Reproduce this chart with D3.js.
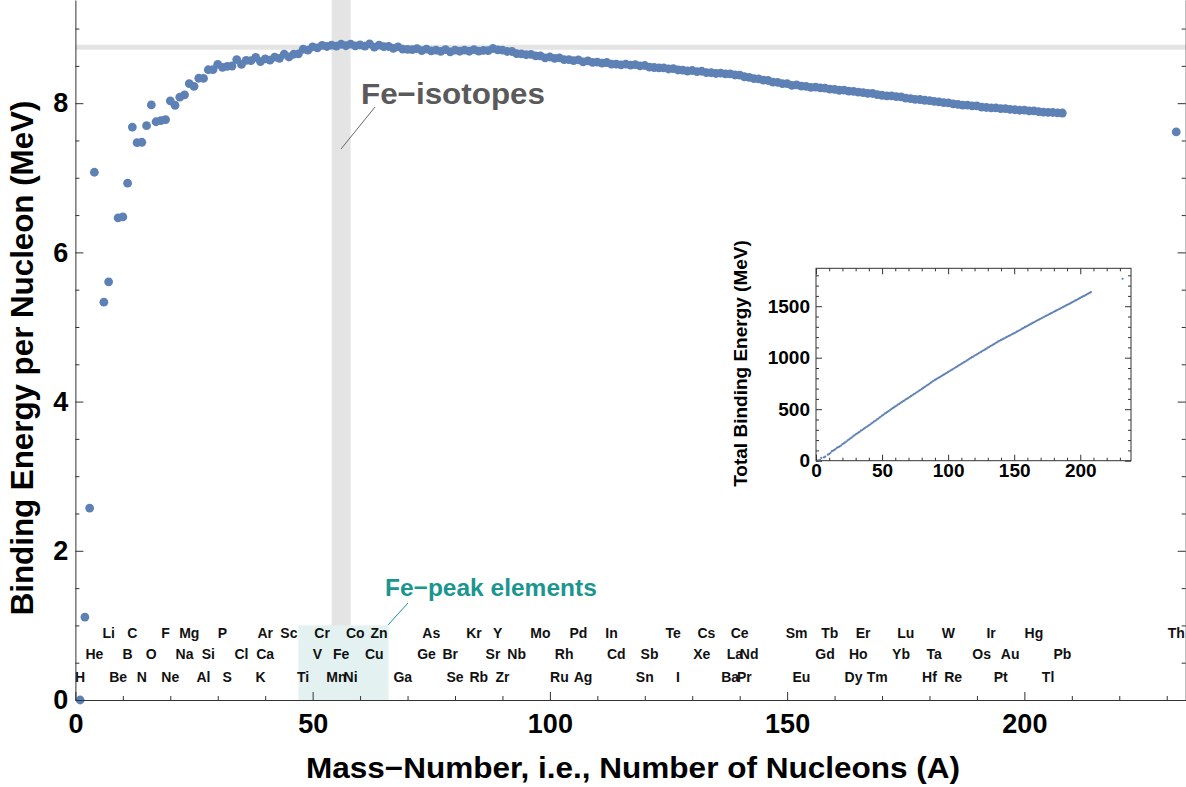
<!DOCTYPE html>
<html>
<head>
<meta charset="utf-8">
<script src="https://cdn.jsdelivr.net/npm/d3@7"></script>
<style>
  body { margin: 0; background: #fff; }
  svg { display: block; }
  text { font-family: "Liberation Sans", Arial, Helvetica, sans-serif; font-weight: bold; }
</style>
</head>
<body>
<svg id="chart" width="1186" height="787"></svg>
<script>
// Mass number A of the lowest-mass (most stable) isobar, and its binding energy per nucleon (MeV)
const massNumbers = [
  1, 2, 3, 4, 6, 7, 9, 10, 11, 12, 13, 14, 15, 16, 17, 18, 19, 20,
  21, 22, 23, 24, 25, 26, 27, 28, 29, 30, 31, 32, 33, 34, 35, 36, 37, 38, 39, 40,
  41, 42, 43, 44, 45, 46, 47, 48, 49, 50, 51, 52, 53, 54, 55, 56, 57, 58, 59, 60,
  61, 62, 63, 64, 65, 66, 67, 68, 69, 70, 71, 72, 73, 74, 75, 76, 77, 78, 79, 80,
  81, 82, 83, 84, 85, 86, 87, 88, 89, 90, 91, 92, 93, 94, 95, 96, 97, 98, 99, 100,
  101, 102, 103, 104, 105, 106, 107, 108, 109, 110, 111, 112, 113, 114, 115, 116, 117, 118, 119, 120,
  121, 122, 123, 124, 125, 126, 127, 128, 129, 130, 131, 132, 133, 134, 135, 136, 137, 138, 139, 140,
  141, 142, 143, 144, 145, 146, 147, 148, 149, 150, 151, 152, 153, 154, 155, 156, 157, 158, 159, 160,
  161, 162, 163, 164, 165, 166, 167, 168, 169, 170, 171, 172, 173, 174, 175, 176, 177, 178, 179, 180,
  181, 182, 183, 184, 185, 186, 187, 188, 189, 190, 191, 192, 193, 194, 195, 196, 197, 198, 199, 200,
  201, 202, 203, 204, 205, 206, 207, 208, 232
];
const bindingPerNucleon = [
  0.000, 1.112, 2.573, 7.074, 5.332, 5.606, 6.463, 6.475, 6.928, 7.680, 7.470, 7.476, 7.699, 7.976, 7.751, 7.767, 7.779, 8.032,
  7.972, 8.080, 8.112, 8.261, 8.224, 8.334, 8.332, 8.448, 8.449, 8.521, 8.481, 8.493, 8.498, 8.584, 8.520, 8.575, 8.570, 8.614, 8.557, 8.595,
  8.576, 8.617, 8.601, 8.658, 8.619, 8.656, 8.661, 8.723, 8.711, 8.756, 8.742, 8.776, 8.760, 8.778, 8.765, 8.790, 8.770, 8.792, 8.768, 8.781,
  8.765, 8.795, 8.752, 8.777, 8.757, 8.760, 8.734, 8.756, 8.725, 8.722, 8.718, 8.732, 8.705, 8.725, 8.701, 8.711, 8.695, 8.718, 8.688, 8.711,
  8.696, 8.711, 8.696, 8.717, 8.697, 8.708, 8.705, 8.733, 8.714, 8.710, 8.693, 8.693, 8.664, 8.662, 8.649, 8.654, 8.635, 8.635, 8.608, 8.619,
  8.601, 8.607, 8.584, 8.585, 8.571, 8.580, 8.554, 8.567, 8.548, 8.551, 8.537, 8.545, 8.523, 8.523, 8.514, 8.523, 8.510, 8.517, 8.499, 8.505,
  8.482, 8.478, 8.472, 8.473, 8.458, 8.463, 8.445, 8.443, 8.431, 8.438, 8.424, 8.428, 8.410, 8.408, 8.398, 8.403, 8.392, 8.394, 8.378, 8.376,
  8.354, 8.346, 8.330, 8.327, 8.309, 8.304, 8.281, 8.280, 8.263, 8.262, 8.239, 8.244, 8.229, 8.225, 8.213, 8.215, 8.204, 8.202, 8.189, 8.184,
  8.173, 8.174, 8.162, 8.159, 8.147, 8.142, 8.132, 8.130, 8.115, 8.106, 8.098, 8.097, 8.087, 8.084, 8.069, 8.061, 8.052, 8.049, 8.039, 8.035,
  8.023, 8.018, 8.008, 8.005, 7.991, 7.983, 7.974, 7.973, 7.963, 7.963, 7.948, 7.942, 7.938, 7.936, 7.927, 7.927, 7.916, 7.912, 7.905, 7.906,
  7.897, 7.897, 7.886, 7.880, 7.878, 7.875, 7.870, 7.868, 7.615
];

// Element symbols placed along the A axis, in order of atomic number (Tc, Pm, Bi omitted)
const elementSymbols = [
  "H", "He", "Li", "Be", "B", "C", "N", "O", "F", "Ne", "Na", "Mg", "Al", "Si", "P", "S", "Cl", "Ar", "K", "Ca",
  "Sc", "Ti", "V", "Cr", "Mn", "Fe", "Co", "Ni", "Cu", "Zn", "Ga", "Ge", "As", "Se", "Br", "Kr", "Rb", "Sr", "Y", "Zr",
  "Nb", "Mo", "Ru", "Rh", "Pd", "Ag", "Cd", "In", "Sn", "Sb", "Te", "I", "Xe", "Cs", "Ba", "La", "Ce", "Pr", "Nd",
  "Sm", "Eu", "Gd", "Tb", "Dy", "Ho", "Er", "Tm", "Yb", "Lu", "Hf", "Ta", "W", "Re", "Os", "Ir", "Pt", "Au", "Hg",
  "Tl", "Pb", "Th"
];
const elementMass = [
  1, 4, 7, 9, 11, 12, 14, 16, 19, 20, 23, 24, 27, 28, 31, 32, 35, 40, 39, 40,
  45, 48, 51, 52, 55, 56, 59, 58, 63, 64, 69, 74, 75, 80, 79, 84, 85, 88, 89, 90,
  93, 98, 102, 103, 106, 107, 114, 113, 120, 121, 126, 127, 132, 133, 138, 139, 140, 141, 142,
  152, 153, 158, 159, 164, 165, 166, 169, 174, 175, 180, 181, 184, 185, 191, 193, 195, 197, 202,
  205, 208, 232
];

const mainXTicks = [0, 50, 100, 150, 200];
const mainYTicks = [0, 2, 4, 6, 8];
const insetXTicks = [0, 50, 100, 150, 200];
const insetYTicks = [0, 500, 1000, 1500];

const feIsotopeRange = [54, 58];   // A range of the iron isotopes
const fePeakRange = [47, 66];      // A range of the iron-peak elements
const fePeakHeight = 1;            // height of the iron-peak box (MeV)
const peakLevel = 8.75;            // reference line at the top of the curve (MeV)

const blue = "#5e81b5";
const frameColor = "#333";

const svg = d3.select("#chart");

// ---------- main panel ----------
const x = d3.scaleLinear().domain([0, 234]).range([75.4, 1185.7]);
const y = d3.scaleLinear().domain([0, 9.383]).range([700, 0]);

// iron isotope band
svg.append("rect")
  .attr("x", x(feIsotopeRange[0])).attr("y", 0)
  .attr("width", x(feIsotopeRange[1]) - x(feIsotopeRange[0]))
  .attr("height", y(0))
  .attr("fill", "#e4e4e4");

// reference line at the peak
svg.append("line")
  .attr("x1", x(0)).attr("x2", x(234))
  .attr("y1", y(peakLevel)).attr("y2", y(peakLevel))
  .attr("stroke", "#e4e4e4").attr("stroke-width", 5);

// iron-peak box
svg.append("rect")
  .attr("x", x(fePeakRange[0])).attr("y", y(fePeakHeight))
  .attr("width", x(fePeakRange[1]) - x(fePeakRange[0]))
  .attr("height", y(0) - y(fePeakHeight))
  .attr("fill", "#e3f2f0");

// element symbols in three staggered rows
const rowY = [676.7, 654.3, 632.7];
svg.append("g").selectAll("text")
  .data(elementSymbols)
  .join("text")
  .attr("x", (d, i) => x(elementMass[i]))
  .attr("y", (d, i) => rowY[i % 3])
  .attr("dy", "0.36em")
  .attr("text-anchor", "middle")
  .attr("font-size", 14)
  .attr("fill", "#111")
  .text(d => d);

// binding energy per nucleon
svg.append("g").selectAll("circle")
  .data(massNumbers)
  .join("circle")
  .attr("cx", d => x(d))
  .attr("cy", (d, i) => y(bindingPerNucleon[i]))
  .attr("r", 4.4)
  .attr("fill", blue);

// annotations
svg.append("line")
  .attr("x1", 341).attr("y1", 149).attr("x2", 375).attr("y2", 107)
  .attr("stroke", "#666").attr("stroke-width", 1);
svg.append("text")
  .attr("x", 361).attr("y", 103.5)
  .attr("font-size", 30)
  .attr("fill", "#5a5a5a")
  .attr("textLength", 184).attr("lengthAdjust", "spacingAndGlyphs")
  .text("Fe\u2212isotopes");

svg.append("line")
  .attr("x1", 388).attr("y1", 625).attr("x2", 408).attr("y2", 603)
  .attr("stroke", "#1a9590").attr("stroke-width", 1);
svg.append("text")
  .attr("x", 385).attr("y", 596)
  .attr("font-size", 24.5)
  .attr("fill", "#1a9590")
  .text("Fe\u2212peak elements");

// axes with inward ticks
function styleAxis(g, size) {
  g.attr("font-family", null);
  if (size) g.attr("font-size", size);
  g.selectAll(".domain").attr("stroke", frameColor);
  g.selectAll(".tick line").attr("stroke", frameColor);
  g.selectAll(".tick text").attr("fill", "#000");
}

const xMinor = d3.range(0, 235, 10).filter(v => v % 50 !== 0);
const yMinor = d3.range(0, 9.3, 0.5).filter(v => v % 2 !== 0);

svg.append("g").attr("transform", `translate(0,${y(0)})`)
  .call(d3.axisBottom(x).tickValues(xMinor).tickSizeInner(-4).tickSizeOuter(0).tickFormat(""))
  .call(g => g.select(".domain").remove())
  .call(styleAxis);
svg.append("g").attr("transform", `translate(0,${y(0)})`)
  .call(d3.axisBottom(x).tickValues(mainXTicks).tickSizeInner(-8).tickSizeOuter(0).tickPadding(13.5))
  .call(styleAxis, 27);

svg.append("g").attr("transform", `translate(${x(0)},0)`)
  .call(d3.axisLeft(y).tickValues(yMinor).tickSizeInner(-4).tickSizeOuter(0).tickFormat(""))
  .call(g => g.select(".domain").remove())
  .call(styleAxis);
svg.append("g").attr("transform", `translate(${x(0)},0)`)
  .call(d3.axisLeft(y).tickValues(mainYTicks).tickSizeInner(-8).tickSizeOuter(0).tickPadding(7))
  .call(styleAxis, 27);

svg.append("g").attr("transform", `translate(${x(234)},0)`)
  .call(d3.axisRight(y).tickValues(yMinor).tickSizeInner(-4).tickSizeOuter(0).tickFormat(""))
  .call(g => g.select(".domain").remove())
  .call(styleAxis);
svg.append("g").attr("transform", `translate(${x(234)},0)`)
  .call(d3.axisRight(y).tickValues(mainYTicks).tickSizeInner(-8).tickSizeOuter(0).tickFormat(""))
  .call(styleAxis);

// axis titles
svg.append("text")
  .attr("x", 633).attr("y", 778)
  .attr("text-anchor", "middle")
  .attr("font-size", 29)
  .attr("textLength", 654).attr("lengthAdjust", "spacingAndGlyphs")
  .text("Mass\u2212Number, i.e., Number of Nucleons (A)");
svg.append("text")
  .attr("transform", "translate(33,358) rotate(-90)")
  .attr("text-anchor", "middle")
  .attr("font-size", 31.3)
  .text("Binding Energy per Nucleon (MeV)");

// ---------- inset: total binding energy ----------
const xi = d3.scaleLinear().domain([0, 238.4]).range([816, 1131]);
const yi = d3.scaleLinear().domain([0, 1868]).range([460.7, 268.3]);

const inset = svg.append("g");
inset.append("rect")
  .attr("x", xi(0)).attr("y", yi(1868))
  .attr("width", xi(238.4) - xi(0)).attr("height", yi(0) - yi(1868))
  .attr("fill", "#fff").attr("stroke", frameColor).attr("stroke-width", 1);

inset.append("g").selectAll("circle")
  .data(massNumbers)
  .join("circle")
  .attr("cx", d => xi(d))
  .attr("cy", (d, i) => yi(d * bindingPerNucleon[i]))
  .attr("r", 1.1)
  .attr("fill", blue);

const xiMinor = d3.range(0, 239, 10).filter(v => v % 50 !== 0);
const yiMinor = d3.range(0, 1868, 100).filter(v => v % 500 !== 0);

function insetAxes(axisFn, scale, pos, major, minor, labels, pad) {
  inset.append("g").attr("transform", pos)
    .call(axisFn(scale).tickValues(minor).tickSizeInner(-3).tickSizeOuter(0).tickFormat(""))
    .call(g => g.select(".domain").remove())
    .call(styleAxis);
  const a = axisFn(scale).tickValues(major).tickSizeInner(-6).tickSizeOuter(0).tickPadding(pad)
    .tickFormat(labels ? d3.format("d") : "");
  inset.append("g").attr("transform", pos)
    .call(a)
    .call(g => g.select(".domain").remove())
    .call(styleAxis, 19);
}
insetAxes(d3.axisBottom, xi, `translate(0,${yi(0)})`, insetXTicks, xiMinor, true, 3);
insetAxes(d3.axisTop, xi, `translate(0,${yi(1868)})`, insetXTicks, xiMinor, false, 3);
insetAxes(d3.axisLeft, yi, `translate(${xi(0)},0)`, insetYTicks, yiMinor, true, 6);
insetAxes(d3.axisRight, yi, `translate(${xi(238.4)},0)`, insetYTicks, yiMinor, false, 6);

inset.append("text")
  .attr("transform", "translate(747,363.5) rotate(-90)")
  .attr("text-anchor", "middle")
  .attr("font-size", 19)
  .text("Total Binding Energy (MeV)");
</script>
</body>
</html>
